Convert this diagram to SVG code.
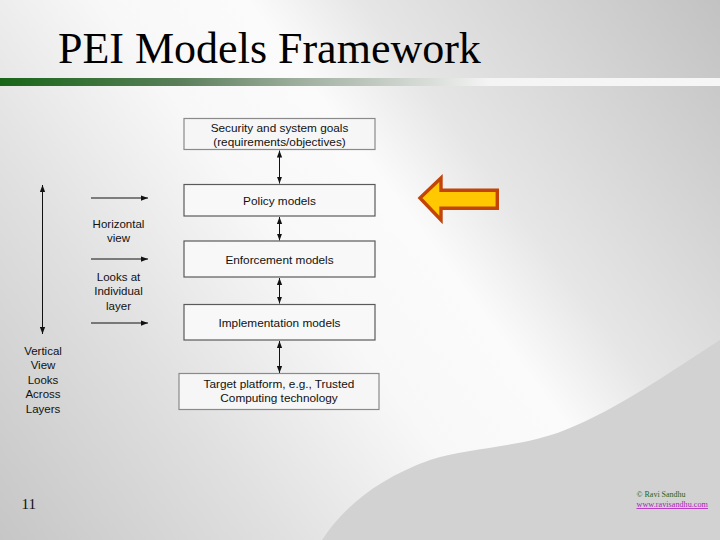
<svg xmlns="http://www.w3.org/2000/svg" width="720" height="540" viewBox="0 0 720 540">
<defs>
<linearGradient id="bg" gradientUnits="userSpaceOnUse" x1="720" y1="0" x2="0" y2="540">
<stop offset="0" stop-color="#c2c2c2"/>
<stop offset="0.32" stop-color="#e6e6e6"/>
<stop offset="0.42" stop-color="#fbfbfb"/>
<stop offset="0.55" stop-color="#f8f8f8"/>
<stop offset="0.75" stop-color="#e0e0e0"/>
<stop offset="1" stop-color="#c6c6c6"/>
</linearGradient>
<linearGradient id="bar" gradientUnits="userSpaceOnUse" x1="0" y1="0" x2="720" y2="0">
<stop offset="0" stop-color="#176617"/>
<stop offset="0.25" stop-color="#5a7f5a"/>
<stop offset="0.42" stop-color="#a0b0a0"/>
<stop offset="0.6" stop-color="#dadeda"/>
<stop offset="0.68" stop-color="#f4f4f4"/>
<stop offset="1" stop-color="#f6f6f6"/>
</linearGradient>
<marker id="ah" viewBox="0 0 8 6" refX="8" refY="3" markerWidth="7" markerHeight="6" markerUnits="userSpaceOnUse" orient="auto-start-reverse">
<path d="M0,0 L8,3 L0,6 Z" fill="#111"/>
</marker>
<style>
.box{fill:#f8f8f8;stroke:#5a5a5a;stroke-width:1.2}
.boxl{fill:#f6f6f6;stroke:#8a8a8a;stroke-width:1.2}
.t{font-family:"Liberation Sans",Arial,sans-serif;font-size:11.8px;fill:#111;text-anchor:middle}
.l{font-family:"Liberation Sans",Arial,sans-serif;font-size:11.5px;fill:#111;text-anchor:middle}
.c{stroke:#111;stroke-width:1;fill:none;marker-end:url(#ah)}
.c2{stroke:#111;stroke-width:1;fill:none;marker-start:url(#ah);marker-end:url(#ah)}
</style>
</defs>
<rect width="720" height="540" fill="url(#bg)"/>
<path d="M322,540 C345,505 380,478 430,460 C470,447 520,448 565,430 C620,408 670,372 720,340 L720,540 Z" fill="#d2d2d2"/>
<rect x="0" y="78" width="720" height="8" fill="url(#bar)"/>
<text x="58" y="63" font-family="'Liberation Serif','Times New Roman',serif" font-size="44" fill="#000">PEI Models Framework</text>

<g id="connectors">
<line class="c2" x1="279.5" y1="150.5" x2="279.5" y2="183.5"/>
<line class="c2" x1="279.5" y1="217" x2="279.5" y2="240.5"/>
<line class="c2" x1="279.5" y1="278" x2="279.5" y2="303.5"/>
<line class="c2" x1="279.5" y1="341" x2="279.5" y2="373"/>
<line class="c2" x1="42.5" y1="185" x2="42.5" y2="334"/>
<line class="c" x1="91" y1="198" x2="148" y2="198"/>
<line class="c" x1="91" y1="259" x2="148" y2="259"/>
<line class="c" x1="91" y1="323" x2="148" y2="323"/>
</g>

<g id="goals">
<rect class="boxl" x="184" y="118.5" width="191" height="31"/>
<text class="t" x="279.5" y="131.5">Security and system goals</text>
<text class="t" x="279.5" y="145.5">(requirements/objectives)</text>
</g>
<g id="policy">
<rect class="box" x="184" y="184.5" width="191" height="31.5"/>
<text class="t" x="279.5" y="204.5">Policy models</text>
</g>
<g id="enforcement">
<rect class="box" x="184" y="241" width="191" height="36"/>
<text class="t" x="279.5" y="263.5">Enforcement models</text>
</g>
<g id="implementation">
<rect class="box" x="184" y="304.5" width="191" height="35.5"/>
<text class="t" x="279.5" y="326.5">Implementation models</text>
</g>
<g id="target">
<rect class="boxl" x="179" y="373.5" width="200" height="36"/>
<text class="t" x="279" y="387.5">Target platform, e.g., Trusted</text>
<text class="t" x="279" y="402">Computing technology</text>
</g>

<g id="horizontal-label">
<text class="l" x="118.5" y="228">Horizontal</text>
<text class="l" x="118.5" y="242">view</text>
</g>
<g id="individual-label">
<text class="l" x="118.5" y="281">Looks at</text>
<text class="l" x="118.5" y="295">Individual</text>
<text class="l" x="118.5" y="309.5">layer</text>
</g>
<g id="vertical-label">
<text class="l" x="43" y="354.5">Vertical</text>
<text class="l" x="43" y="369">View</text>
<text class="l" x="43" y="383.5">Looks</text>
<text class="l" x="43" y="398">Across</text>
<text class="l" x="43" y="412.5">Layers</text>
</g>

<g id="pointer">
<path d="M420,198 L441,178 L441,190.3 L497.3,190.3 L497.3,208.3 L441,208.3 L441,220 Z" fill="#ffc800" stroke="#c24408" stroke-width="3.4" stroke-linejoin="miter"/>
</g>

<text x="21.5" y="509" font-family="'Liberation Serif','Times New Roman',serif" font-size="15" fill="#111">11</text>
<text x="636.5" y="496.5" font-family="'Liberation Serif','Times New Roman',serif" font-size="8.2" fill="#1a661a" textLength="49" lengthAdjust="spacingAndGlyphs">© Ravi Sandhu</text>
<text x="636.5" y="507" font-family="'Liberation Serif','Times New Roman',serif" font-size="8.2" fill="#b020c0" text-decoration="underline" textLength="71.5" lengthAdjust="spacingAndGlyphs">www.ravisandhu.com</text>
</svg>
